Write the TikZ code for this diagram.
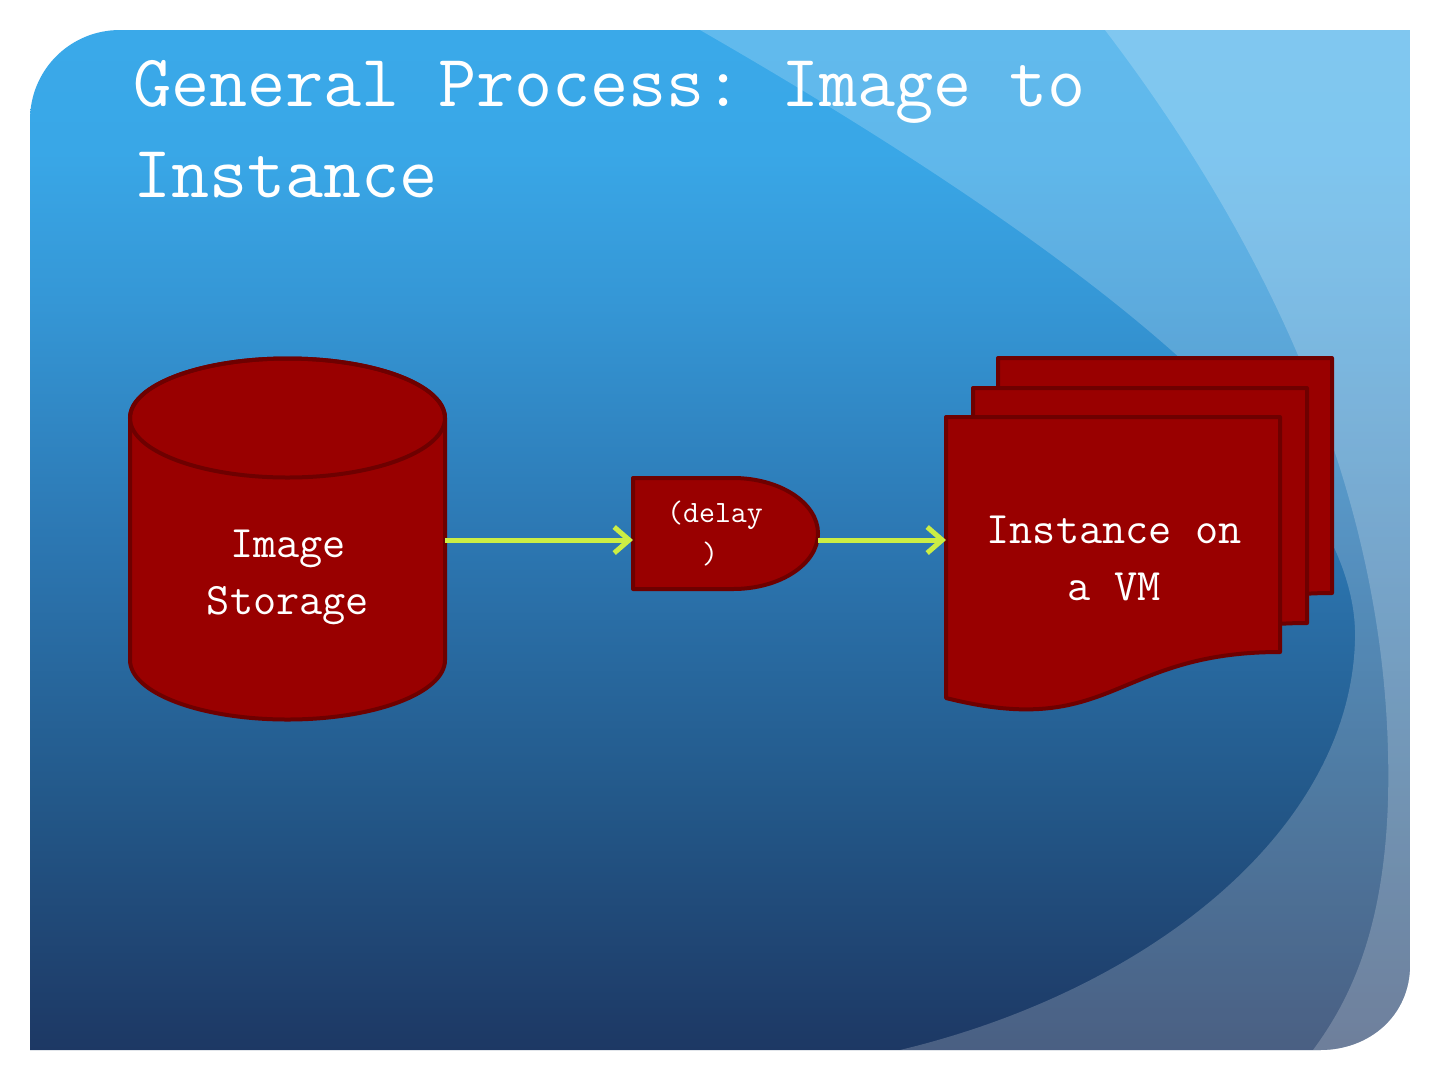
\documentclass[tikz,border=0pt]{standalone}
\usetikzlibrary{arrows.meta}
\definecolor{bgA}{HTML}{1D3864}
\definecolor{bgB}{HTML}{235889}
\definecolor{bgC}{HTML}{2C77B2}
\definecolor{bgD}{HTML}{3597D6}
\definecolor{bgE}{HTML}{39A7E7}
\definecolor{bgF}{HTML}{3AA9E9}
\definecolor{shapefill}{HTML}{990000}
\definecolor{shapeline}{HTML}{6E0000}
\definecolor{arrowcol}{HTML}{CCEE44}
\pgfdeclareverticalshading{slidebg}{100bp}{color(0bp)=(bgA); color(25bp)=(bgA); color(37.25bp)=(bgB); color(50bp)=(bgC); color(61.75bp)=(bgD); color(69bp)=(bgE); color(75bp)=(bgF); color(100bp)=(bgF)}
\frenchspacing
\begin{document}
\begin{tikzpicture}[x=1pt,y=-1pt,
  shapestyle/.style={fill=shapefill, draw=shapeline, line width=4pt, line join=round},
  hit/.style={draw=none, fill=none, inner sep=0pt, outer sep=0pt},
  lbl/.style={text=white, inner sep=0pt, anchor=base, font=\ttfamily\fontsize{45}{54}\selectfont},
  smalllbl/.style={text=white, inner sep=0pt, anchor=base, font=\ttfamily\fontsize{31}{38}\selectfont},
  titlestyle/.style={text=white, inner sep=0pt, anchor=base west, font=\ttfamily\fontsize{74}{90}\selectfont},
  flow/.style={draw=arrowcol, line width=5pt, -{Straight Barb[length=15pt,width=26pt]}}]
\useasboundingbox (0,0) rectangle (1440,1080);
\fill[white] (0,0) rectangle (1440,1080);
% slide background
\begin{scope}
\clip (30,1050) -- (30,120) .. controls (30,70) and (70,30) .. (120,30) -- (1410,30) -- (1410,965) .. controls (1410,1015) and (1370,1050) .. (1320,1050) -- cycle;
\shade[shading=slidebg] (30,30) rectangle (1410,1050);
\fill[white, opacity=0.2] (700,30) .. controls (1100,260) and (1360,470) .. (1355,640) .. controls (1350,830) and (1150,990) .. (900,1050) -- (1440,1080) -- (1440,0) -- (700,0) -- cycle;
\fill[white, opacity=0.2] (1105,30) .. controls (1280,260) and (1395,520) .. (1388,800) .. controls (1384,930) and (1350,1000) .. (1313,1050) -- (1313,1080) -- (1440,1080) -- (1440,0) -- (1105,0) -- cycle;
\end{scope}
% title
\node[titlestyle] (title1) at (133,106) {General Process: Image to};
\node[titlestyle] (title2) at (133,197) {Instance};
% cylinder
\path[shapestyle] (130,418) -- (130,660) .. controls (130,692.9) and (200.5,719.5) .. (287.5,719.5) .. controls (374.5,719.5) and (445,692.9) .. (445,660) -- (445,418) .. controls (445,385.1) and (374.5,358.5) .. (287.5,358.5) .. controls (200.5,358.5) and (130,385.1) .. (130,418) -- cycle;
\draw[draw=shapeline, line width=4pt] (287.5,418) ellipse [x radius=157.5, y radius=59.5];
\node[hit, minimum width=315pt, minimum height=362pt] (store) at (287.5,540) {};
\node[lbl] (storeA) at (288,557) {Image};
\node[lbl] (storeB) at (288,614) {Storage};
% delay
\path[shapestyle] (633,478) -- (733,478) .. controls (780,478) and (818,502.9) .. (818,533.5) .. controls (818,564.1) and (780,589) .. (733,589) -- (633,589) -- cycle;
\node[hit, minimum width=185pt, minimum height=100pt] (delay) at (725.5,540) {};
\node[smalllbl] (delayA) at (715,522) {(delay};
\node[smalllbl] (delayB) at (710,563) {)};
% multi document
\foreach \dx/\dy in {52/59, 27/29, 0/0}{
  \begin{scope}[shift={(\dx,-\dy)}]
    \path[shapestyle] (946,417) -- (1280,417) -- (1280,652) .. controls (1113,652) and (1113,740) .. (946,698) -- cycle;
  \end{scope}
}
\node[hit, minimum width=334pt, minimum height=200pt] (doc) at (1113,540) {};
\node[lbl] (docA) at (1114,543) {Instance on};
\node[lbl] (docB) at (1114,600) {a VM};
% connectors
\draw[flow] (store.east) -- (delay.west);
\draw[flow] (delay.east) -- (doc.west);
\end{tikzpicture}
\end{document}
